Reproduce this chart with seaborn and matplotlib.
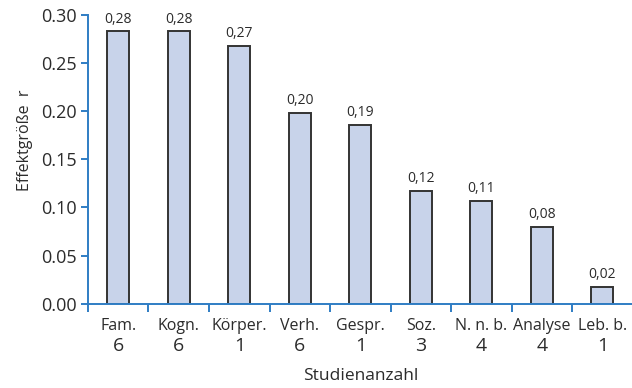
import matplotlib
matplotlib.use("Agg")
import matplotlib.pyplot as plt
import matplotlib.transforms as mtransforms
import seaborn as sns
import pandas as pd

# Effect sizes per study category
categories = ["Fam.", "Kogn.", "Körper.", "Verh.", "Gespr.", "Soz.", "N. n. b.", "Analyse", "Leb. b."]
study_counts = [6, 6, 1, 6, 1, 3, 4, 4, 1]
effect_r = [0.283, 0.283, 0.268, 0.198, 0.186, 0.117, 0.107, 0.080, 0.017]
y_ticks = [0.00, 0.05, 0.10, 0.15, 0.20, 0.25, 0.30]

df = pd.DataFrame({"Kategorie": categories, "r": effect_r})

sns.set_theme(style="white")
plt.rcParams["font.family"] = ["Open Sans", "DejaVu Sans"]

text_col = "#2b2b2b"
axis_col = "#2f7dc4"
bar_fill = "#c8d3ea"

fig = plt.figure(figsize=(6.32, 3.88), dpi=100)
ax = fig.add_axes([0.1392, 0.2173, 0.8618, 0.744])

sns.barplot(data=df, x="Kategorie", y="r", ax=ax, color=bar_fill, saturation=1,
            width=0.36, edgecolor="#333333", linewidth=1.4)

ax.set_xlim(-0.5, 8.5)
ax.set_ylim(0, 0.30)

# spines
for side in ["top", "right"]:
    ax.spines[side].set_visible(False)
for side in ["left", "bottom"]:
    ax.spines[side].set_color(axis_col)
    ax.spines[side].set_linewidth(1.4)

# y axis
ax.set_yticks(y_ticks)
ax.set_yticklabels([f"{t:.2f}" for t in y_ticks], fontsize=13, color=text_col)
ax.tick_params(axis="y", which="major", direction="out", length=5, width=1.4,
               color=axis_col, left=True, pad=3)
ax.set_ylabel("Effektgröße  r", fontsize=11.5, color=text_col)
ax.yaxis.set_label_coords(-0.101, 0.567)

# x axis: boundary ticks, category names at centres
ax.set_xticks([i - 0.5 for i in range(len(categories) + 1)])
ax.set_xticklabels([])
ax.tick_params(axis="x", which="major", direction="out", length=6, width=1.4,
               color=axis_col, bottom=True)
ax.set_xticks(range(len(categories)), minor=True)
ax.set_xticklabels(categories, minor=True, fontsize=11.5, color=text_col)
ax.tick_params(axis="x", which="minor", length=0, pad=10)
ax.set_xlabel("Studienanzahl", fontsize=12.5, color=text_col, labelpad=25)

# study counts under the category names
trans = mtransforms.blended_transform_factory(ax.transData, ax.transAxes)
for i, n in enumerate(study_counts):
    ax.text(i, -0.145, str(n), transform=trans, ha="center", va="center",
            fontsize=14, color=text_col)

# value labels above bars
for i, v in enumerate(effect_r):
    ax.annotate(f"{v:.2f}".replace(".", ","), (i, v), xytext=(0, 3.5),
                textcoords="offset points", ha="center", va="bottom",
                fontsize=10, color=text_col)

fig.savefig("out.png", dpi=100)
